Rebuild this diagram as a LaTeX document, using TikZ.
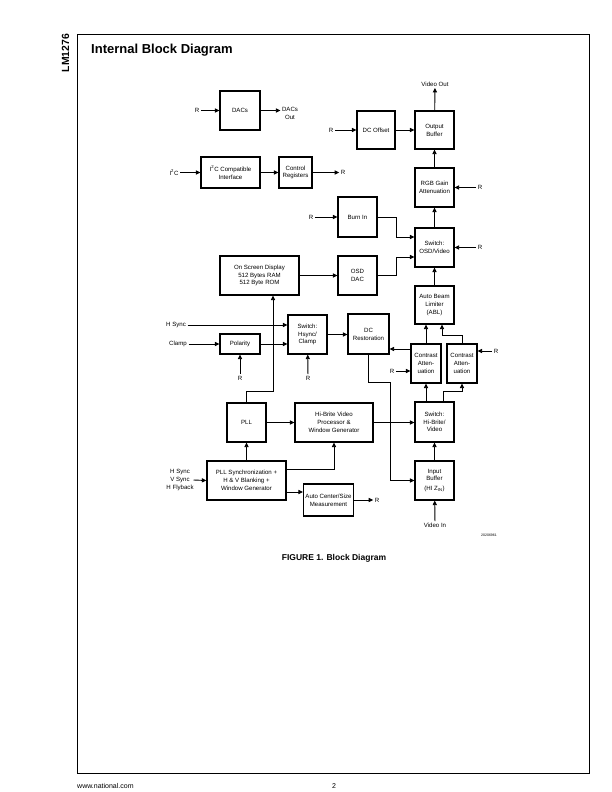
\documentclass[tikz,border=0pt]{standalone}
\usepackage{fontspec}
\setmainfont{Liberation Sans}
\usetikzlibrary{arrows.meta}
\newcommand{\blkfont}{\fontsize{6.1}{7.8}\selectfont}
\begin{document}
\begin{tikzpicture}[x=1pt,y=-1pt,
  blk/.style={draw, line width=1.3pt, align=center, inner sep=0pt, font=\blkfont},
  sz/.style 2 args={minimum width=#1pt, minimum height=#2pt},
  lbl/.style={inner sep=1.5pt, font=\blkfont, align=center},
  arr/.style={line width=0.9pt, -{Triangle[length=4.5pt,width=4.2pt]}},
  ln/.style={line width=0.9pt}]
\useasboundingbox (0,0) rectangle (612,792);
% page frame and page texts
\draw[line width=1pt] (77,35) rectangle (589,773);
\node[anchor=west, inner sep=0, font=\fontsize{13}{15}\selectfont\bfseries] (title) at (91,50.5) {Internal Block Diagram};
\node[rotate=90, inner sep=0, font=\fontsize{10.4}{12}\selectfont\bfseries] (part) at (65.5,53) {LM1276};
\node[inner sep=0, font=\fontsize{8.5}{10}\selectfont\bfseries] (cap) at (334,558.6) {FIGURE 1. Block Diagram};
\node[anchor=west, inner sep=0, font=\fontsize{7}{8}\selectfont] (www) at (77,786) {www.national.com};
\node[inner sep=0, font=\fontsize{7}{8}\selectfont] (pg) at (334,786) {2};
\node[inner sep=0, font=\fontsize{3.5}{4}\selectfont] (num) at (489,535) {20206961};

% blocks
\node[blk, sz={40}{39}] (dacs) at (240,110.5) {DACs};
\node[blk, sz={38}{38}] (dcoff) at (376,130) {DC Offset};
\node[blk, sz={39}{38}] (outbuf) at (434.5,130) {Output\\Buffer};
\node[blk, sz={59}{31}] (i2c) at (230.5,172.5) {I\textsuperscript{2}C Compatible\\Interface};
\node[blk, sz={33}{31}] (ctrl) at (295.5,172.5) {Control\\Registers};
\node[blk, sz={39}{39}] (rgb) at (434.5,187.5) {RGB Gain\\Attenuation};
\node[blk, sz={39}{40}] (burn) at (357.5,217) {Burn In};
\node[blk, sz={39}{39}] (swosd) at (434.5,247.5) {Switch:\\OSD/Video};
\node[blk, sz={79}{39}] (osd) at (259.5,275.5) {On Screen Display\\512 Bytes RAM\\512 Byte ROM};
\node[blk, sz={39}{39}] (osddac) at (357.5,275.5) {OSD\\DAC};
\node[blk, sz={39}{38}] (abl) at (434.5,305) {Auto Beam\\Limiter\\(ABL)};
\node[blk, sz={39}{39}] (swhs) at (307.5,334.5) {Switch:\\Hsync/\\Clamp};
\node[blk, sz={40}{20}] (pol) at (240,344) {Polarity};
\node[blk, sz={41}{40}] (dcr) at (368.5,334) {DC\\Restoration};
\node[blk, sz={30}{39}] (ca1) at (426,363.5) {Contrast\\Atten-\\uation};
\node[blk, sz={30}{39}] (ca2) at (462,363.5) {Contrast\\Atten-\\uation};
\node[blk, sz={39}{39}] (pll) at (246.5,422.5) {PLL};
\node[blk, sz={78}{39}] (hib) at (334,422.5) {Hi-Brite Video\\Processor \&\\Window Generator};
\node[blk, sz={39}{40}] (swhb) at (434.5,422) {Switch:\\Hi-Brite/\\Video};
\node[blk, sz={79}{39}] (pllsync) at (246.5,480.5) {PLL Synchronization +\\H \& V Blanking +\\Window Generator};
\node[blk, sz={39}{39}] (inbuf) at (434.5,480.5) {Input\\Buffer\\[2pt](HI Z\textsubscript{IN})};
\node[blk, sz={50}{32}] (acs) at (328.5,500) {Auto Center/Size\\Measurement};

% labels
\node[lbl] (r1) at (197,110.5) {R};
\node[lbl] (dout) at (290,113) {DACs\\Out};
\node[lbl] (r2) at (331,130) {R};
\node[lbl] (vout) at (435,84) {Video Out};
\node[lbl] (i2cin) at (174,172.5) {I\textsuperscript{2}C};
\node[lbl] (r3) at (343,172.5) {R};
\node[lbl] (r4) at (480,187.5) {R};
\node[lbl] (r5) at (311,217) {R};
\node[lbl] (r6) at (480,247.5) {R};
\node[lbl] (hs) at (176,325) {H Sync};
\node[lbl] (clamp) at (178,344) {Clamp};
\node[lbl] (r7) at (240,378) {R};
\node[lbl] (r8) at (308,378) {R};
\node[lbl] (r9) at (392,371) {R};
\node[lbl] (r10) at (496,351) {R};
\node[lbl] (vin) at (435,525) {Video In};
\node[lbl] (syncin) at (180,480) {H Sync\\V Sync\\H Flyback};
\coordinate (syncend) at (193.5,480);
\node[lbl] (r11) at (377,500) {R};

% connectors
\draw[arr] (r1) -- (dacs);
\draw[arr] (dacs.east) -- (dacs.east -| dout.west);
\draw[arr] (r2) -- (dcoff);
\draw[arr] (dcoff) -- (outbuf);
\draw[arr] (outbuf) -- (vout);
\draw[arr] (i2cin) -- (i2c);
\draw[arr] (i2c) -- (ctrl);
\draw[arr] (ctrl) -- (r3);
\draw[arr] (rgb) -- (outbuf);
\draw[arr] (r4) -- (rgb);
\draw[arr] (r5) -- (burn);
\draw[arr] (burn.east) -- (396,217) -- (396,237) -- (swosd.west |- 0,237);
\draw[arr] (osddac.east) -- (396,275.5) -- (396,257) -- (swosd.west |- 0,257);
\draw[arr] (r6) -- (swosd);
\draw[arr] (swosd) -- (rgb);
\draw[arr] (abl) -- (swosd);
\draw[arr] (osd) -- (osddac);
\draw[arr] (hs) -- (swhs.west |- 0,325);
\draw[arr] (clamp) -- (pol);
\draw[arr] (pol.east) -- (swhs.west |- 0,344);
\draw[arr] (r7) -- (pol);
\draw[arr] (r8) -- (swhs);
\draw[arr] (swhs.east) -- (dcr.west |- 0,334.5);
\draw[arr] (ca1.west |- 0,349) -- (dcr.east |- 0,349);
\draw[arr] (r9) -- (ca1.west |- 0,371);
\draw[arr] (r10) -- (ca2.east |- 0,351);
\draw[arr] (ca1.north) -- (abl.south -| ca1.north);
\draw[arr] (ca2.north) -- (462,335) -- (442,335) -- (abl.south -| 442,0);
\draw[arr] (dcr.south) -- (368.5,382) -- (390,382) -- (390,480.5) -- (inbuf.west);
\draw[arr] (swhb.north -| 426,0) -- (ca1.south);
\draw[arr] (swhb.north -| 443,0) -- (443,391) -- (462,391) -- (ca2.south);
\draw[arr] (inbuf) -- (swhb);
\draw[arr] (vin) -- (inbuf);
\draw[arr] (hib.east) -- (swhb.west |- hib.east);
\draw[arr] (pll) -- (hib);
\draw[arr] (pll.north) -- (246.5,391) -- (273,391) -- (osd.south -| 273,0);
\draw[arr] (pllsync) -- (pll);
\draw[arr] (pllsync.east |- 0,469) -- (334,469) -- (hib.south);
\draw[arr] (pllsync.east |- 0,492) -- (acs.west |- 0,492);
\draw[arr] (acs) -- (r11);
\draw[arr] (syncend) -- (pllsync.west);
\end{tikzpicture}
\end{document}
